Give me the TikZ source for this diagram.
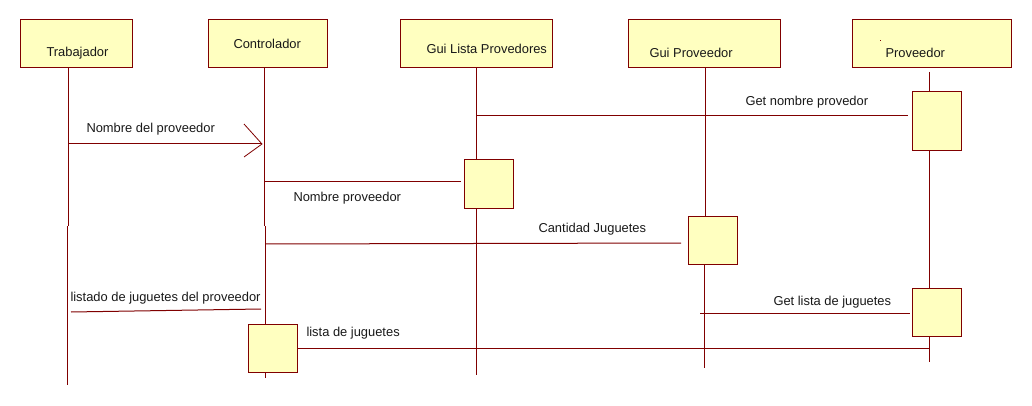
\documentclass[tikz,border=0pt]{standalone}
\usepackage{fontspec}
\setmainfont{Liberation Sans}
\definecolor{umlline}{RGB}{128,0,0}
\definecolor{umlfill}{RGB}{255,255,192}
\begin{document}
\begin{tikzpicture}[x=1pt,y=-1pt,
  line width=1pt,
  obj/.style={draw=umlline,fill=umlfill,line width=1pt},
  life/.style={draw=umlline,line width=1pt},
  msg/.style={draw=umlline,line width=1pt},
  lbl/.style={inner sep=0pt,anchor=base west,font=\fontsize{12.9}{14}\selectfont,text=black!90}]
\useasboundingbox[fill=white] (0,0) rectangle (1032,406);
% header boxes
\path[obj] (20,20) rectangle (132,68);
\path[obj] (208,20) rectangle (327,68);
\path[obj] (400,20) rectangle (552,68);
\path[obj] (628,20) rectangle (780,68);
\path[obj] (852,20) rectangle (1011,68);
\node[lbl] (tTrab) at (46,57) {Trabajador};
\node[lbl] (tCont) at (233,48.5) {Controlador};
\node[lbl] (tGuiL) at (426,53.5) {Gui Lista Provedores};
\node[lbl] (tGuiP) at (649,57.5) {Gui Proveedor};
\node[lbl] (tProv) at (885,57.5) {Proveedor};
\fill[umlline] (879.5,40.5) rectangle (880.5,41.5);
% lifelines
\coordinate (tr0) at (68,68); \coordinate (tr1) at (68,226);
\coordinate (tr2) at (67,226); \coordinate (tr3) at (67,385);
\draw[life] (tr0) -- (tr1); \draw[life] (tr2) -- (tr3);
\coordinate (co0) at (264,68); \coordinate (co1) at (264,226);
\coordinate (co2) at (265,226); \coordinate (co3) at (265,324);
\coordinate (co4) at (265,372); \coordinate (co5) at (265,378);
\draw[life] (co0) -- (co1); \draw[life] (co2) -- (co3); \draw[life] (co4) -- (co5);
\coordinate (gl0) at (476,68); \coordinate (gl1) at (476,160);
\coordinate (gl2) at (476,208); \coordinate (gl3) at (476,375);
\draw[life] (gl0) -- (gl1); \draw[life] (gl2) -- (gl3);
\coordinate (gp0) at (705,68); \coordinate (gp1) at (705,216);
\coordinate (gp2) at (704,264); \coordinate (gp3) at (704,368);
\draw[life] (gp0) -- (gp1); \draw[life] (gp2) -- (gp3);
\coordinate (pv0) at (929,72); \coordinate (pv1) at (929,92);
\coordinate (pv2) at (929,151); \coordinate (pv3) at (929,288);
\coordinate (pv4) at (929,336); \coordinate (pv5) at (929,362);
\draw[life] (pv0) -- (pv1); \draw[life] (pv2) -- (pv3); \draw[life] (pv4) -- (pv5);
% activation boxes
\path[obj] (248,324) rectangle (297,372);
\path[obj] (464,160) rectangle (513,208);
\path[obj] (688,216) rectangle (737,264);
\path[obj] (912,92) rectangle (961,151);
\path[obj] (912,288) rectangle (961,336);
% messages
\coordinate (m1a) at (68,144); \coordinate (m1b) at (262,144);
\coordinate (m1u) at (244,124); \coordinate (m1l) at (244,157);
\draw[msg] (m1a) -- (m1b);
\draw[msg,line width=0.8pt] (m1u) -- (m1b) -- (m1l);
\node[lbl] (l1) at (86,132.5) {Nombre del proveedor};
\coordinate (m2a) at (476,116); \coordinate (m2b) at (908,116);
\draw[msg] (m2a) -- (m2b);
\node[lbl] (l2) at (745,105.5) {Get nombre provedor};
\coordinate (m3a) at (265,181); \coordinate (m3b) at (461,181);
\draw[msg] (m3a) -- (m3b);
\node[lbl] (l3) at (293,201.5) {Nombre proveedor};
\coordinate (m4a) at (265,244); \coordinate (m4b) at (681,243);
\draw[msg] (m4a) -- (m4b);
\node[lbl] (l4) at (538,232.5) {Cantidad Juguetes};
\coordinate (m5a) at (71,312); \coordinate (m5b) at (261,309);
\draw[msg] (m5a) -- (m5b);
\node[lbl] (l5) at (70,301.5) {listado de juguetes del proveedor};
\coordinate (m6a) at (700,313); \coordinate (m6b) at (910,313);
\draw[msg] (m6a) -- (m6b);
\node[lbl] (l6) at (773,305.5) {Get lista de juguetes};
\coordinate (m7a) at (297,348); \coordinate (m7b) at (929,348);
\draw[msg] (m7a) -- (m7b);
\node[lbl] (l7) at (306,336.5) {lista de juguetes};
\end{tikzpicture}
\end{document}
